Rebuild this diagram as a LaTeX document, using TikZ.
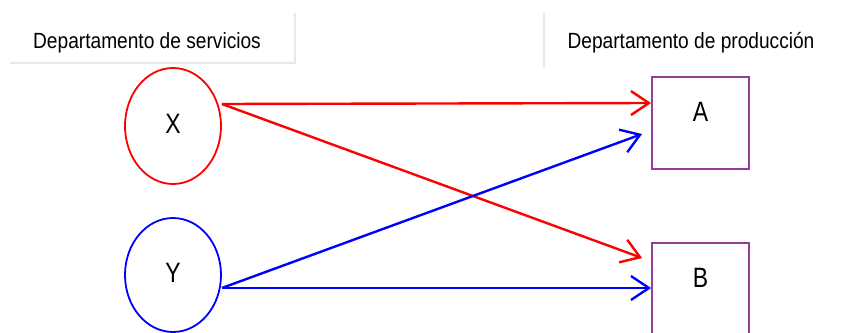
\documentclass[tikz,border=0pt]{standalone}
\usepackage{fontspec}
\setmainfont{Liberation Sans}
\usetikzlibrary{shapes.geometric,arrows.meta}
\definecolor{boxpurple}{RGB}{150,60,160}
\definecolor{framegray}{RGB}{232,232,232}
\tikzset{
  deptell/.style={ellipse, draw, line width=1.8pt, inner sep=0pt, minimum width=96pt, font=\fontsize{28}{30}\selectfont},
  prodbox/.style={rectangle, draw=boxpurple, line width=1.8pt, minimum width=97pt, minimum height=92pt, inner sep=0pt, font=\fontsize{28}{30}\selectfont},
  headlbl/.style={font=\fontsize{22}{24}\selectfont, inner sep=0pt, anchor=base},
  flow/.style={line width=2.4pt, -{Straight Barb[length=18pt,width=24pt,line width=2.4pt]}},
  frameline/.style={draw=framegray, line width=1.5pt}
}
\newcommand{\nlet}[1]{\scalebox{0.82}[1]{#1}}
\begin{document}
\begin{tikzpicture}[x=1pt,y=-1pt]
\useasboundingbox (0,0) rectangle (859,332);
% faint frame lines
\draw[frameline] (10,63) -- (295,63) -- (295,13);
\draw[frameline] (544,13) -- (544,68);
% headers
\node[headlbl, xscale=0.87] (hs) at (147,48) {Departamento de servicios};
\node[headlbl, xscale=0.87] (hp) at (691,48) {Departamento de producción};
% nodes
\node[deptell, draw=red, minimum height=116pt] (X) at (173,126) {\raisebox{5pt}{\nlet{X}}};
\node[deptell, draw=blue, minimum height=114pt] (Y) at (173,275) {\raisebox{5pt}{\nlet{Y}}};
\node[prodbox] (A) at (700.5,123) {\raisebox{22pt}{\nlet{A}}};
\node[prodbox] (B) at (700.5,289) {\raisebox{22pt}{\nlet{B}}};
% connectors
\draw[flow, red] ([yshift=22pt]X.east) -- ([yshift=20pt]A.west);
\draw[flow, red] ([yshift=22pt]X.east) -- ([xshift=-9pt,yshift=31pt]B.west);
\draw[flow, blue] ([yshift=-13pt]Y.east) -- ([xshift=-9pt,yshift=-11pt]A.west);
\draw[flow, blue] ([yshift=-13pt]Y.east) -- ([yshift=1pt]B.west);
\end{tikzpicture}
\end{document}
